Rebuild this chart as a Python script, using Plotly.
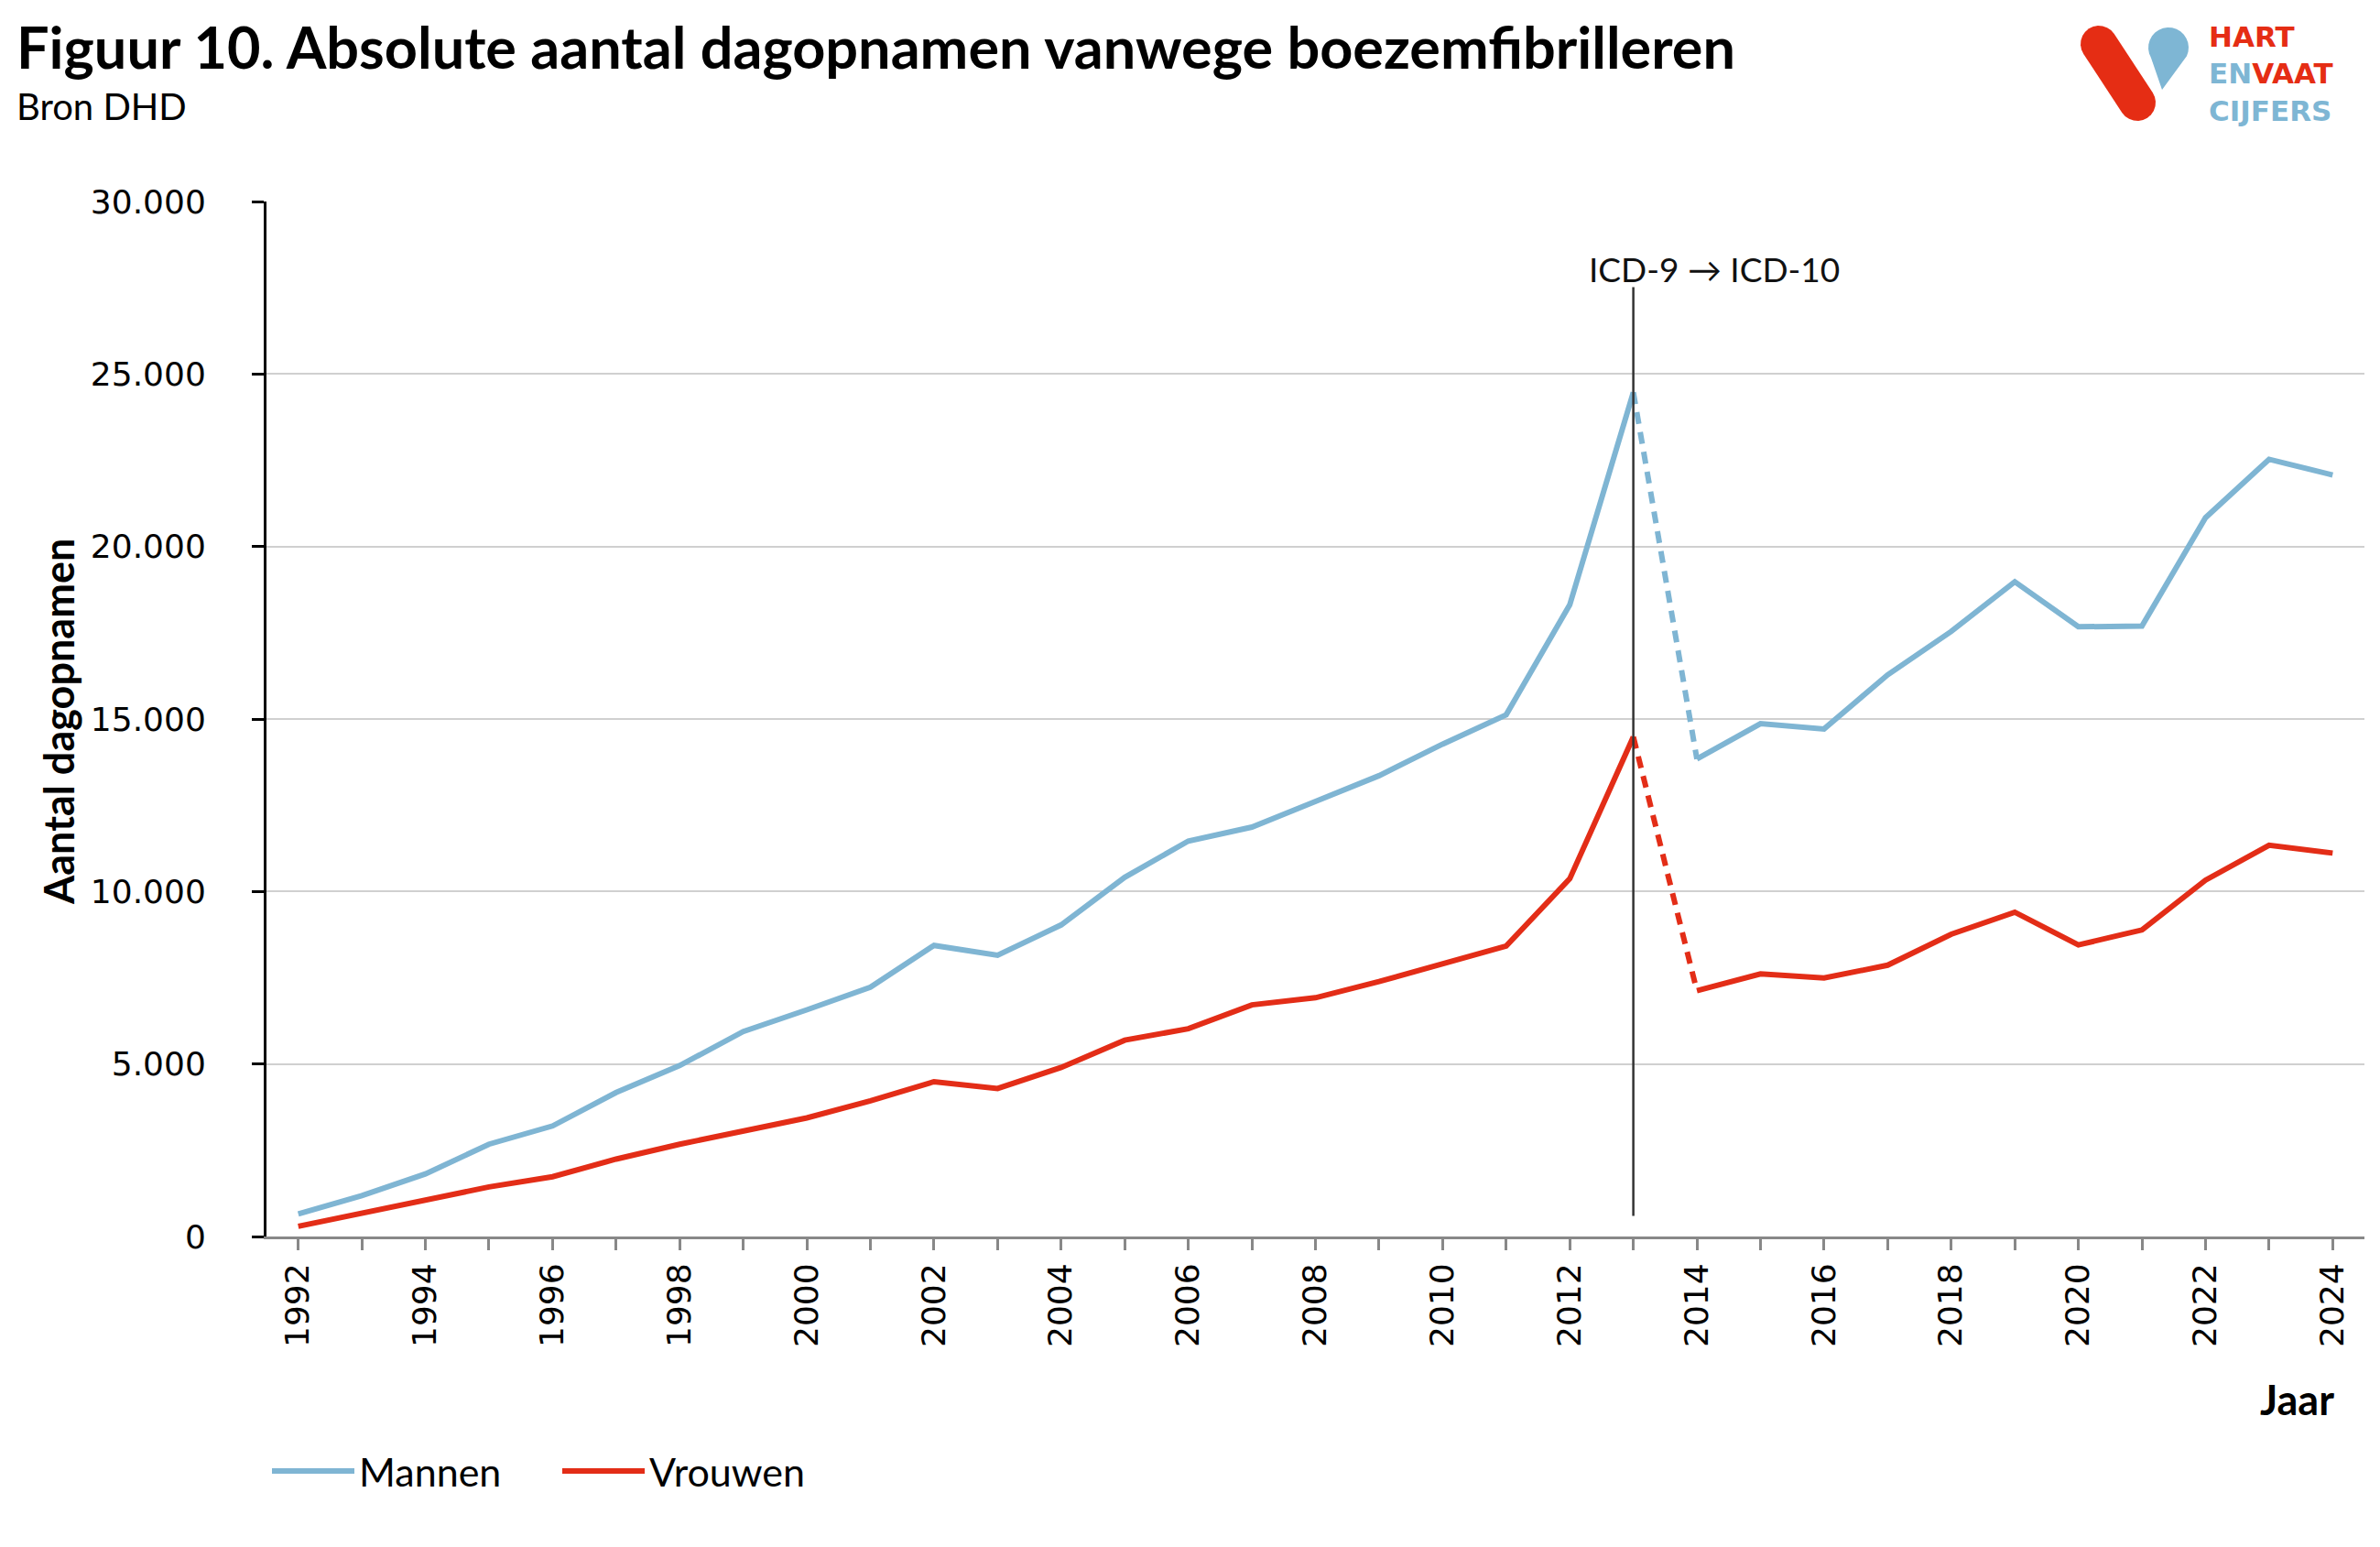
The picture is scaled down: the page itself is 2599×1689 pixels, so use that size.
import math
import plotly.graph_objects as go

years = list(range(1992, 2025))
mannen = [655, 1185, 1813, 2675, 3205, 4175, 4955, 5943, 6571, 7226, 8438, 8151,
          9031, 10413, 11463, 11867, 12612, 13357, 14272, 15123, 18309, 24469,
          13840, 14864, 14711, 16280, 17539, 18978, 17673, 17693, 20836, 22528, 22074]
vrouwen = [296, 673, 1050, 1436, 1733, 2244, 2675, 3052, 3438, 3932, 4488, 4291,
           4901, 5691, 6023, 6715, 6921, 7388, 7914, 8420, 10370, 14481,
           7123, 7613, 7492, 7864, 8762, 9401, 8452, 8885, 10330, 11341, 11114]
series_names = ["Mannen", "Vrouwen"]
colors = ["#7FB5D3", "#E32D17"]
break_year = 2013  # ICD-9 -> ICD-10 transition
ytick_vals = [0, 5000, 10000, 15000, 20000, 25000, 30000]
ytick_text = ["0", "5.000", "10.000", "15.000", "20.000", "25.000", "30.000"]
xtick_labels = [str(y) if (y - 1992) % 2 == 0 else "" for y in years]

W, H = 2599, 1689
L, R, T, B = 283, 25, 212, 347
PW, PH = W - L - R, H - T - B


def px(X):
    return (X - L) / PW


def py(Y):
    return (H - B - Y) / PH


fig = go.Figure()
bi = years.index(break_year)
for name, vals, col in zip(series_names, [mannen, vrouwen], colors):
    fig.add_trace(go.Scatter(x=years[:bi + 1], y=vals[:bi + 1], mode="lines", name=name,
                             legendgroup=name, line=dict(color=col, width=6)))
    fig.add_trace(go.Scatter(x=years[bi:bi + 2], y=vals[bi:bi + 2], mode="lines", name=name,
                             legendgroup=name, showlegend=False,
                             line=dict(color=col, width=6, dash="13px,9px")))
    fig.add_trace(go.Scatter(x=years[bi + 1:], y=vals[bi + 1:], mode="lines", name=name,
                             legendgroup=name, showlegend=False,
                             line=dict(color=col, width=6)))

# vertical line at coding change
fig.add_shape(type="line", xref="x", yref="y", x0=break_year, x1=break_year,
              y0=600, y1=27520, line=dict(color="#333333", width=2.5), layer="above")

annotations = [
    dict(text="ICD-9 → ICD-10", x=2014.28, y=28050, xref="x", yref="y", showarrow=False,
         font=dict(family="Lato", size=37, color="#111111")),
    dict(text="<b>Figuur 10. Absolute aantal dagopnamen vanwege boezemfibrilleren</b>",
         x=px(8), y=py(42), xref="paper", yref="paper", xanchor="left", yanchor="middle",
         showarrow=False, font=dict(family="Lato", size=63, color="#000000")),
    dict(text="Bron DHD", x=px(8), y=py(108), xref="paper", yref="paper", xanchor="left",
         yanchor="middle", showarrow=False, font=dict(family="Lato", size=40, color="#000000")),
    dict(text="<b>Aantal dagopnamen</b>", x=px(56), y=py(780), xref="paper", yref="paper",
         textangle=-90, showarrow=False, xanchor="center", yanchor="middle",
         font=dict(family="Lato", size=45, color="#000000")),
    dict(text="<b>Jaar</b>", x=px(2500), y=py(1520), xref="paper", yref="paper",
         showarrow=False, xanchor="center", yanchor="middle",
         font=dict(family="Lato", size=45, color="#000000")),
    # logo text
    dict(text="<b><span style='color:#E52D14'>HART</span><br>"
              "<span style='color:#7EB6D4'>EN</span><span style='color:#E52D14'>VAAT</span><br>"
              "CIJFERS</b>",
         x=px(2402), y=py(72), xref="paper", yref="paper", xanchor="left", yanchor="middle",
         align="left", showarrow=False,
         font=dict(family="DejaVu Sans", size=31, color="#7EB6D4")),
]


def pill_path(x0, y0, x1, y1, r, n=12):
    ang = math.atan2(y1 - y0, x1 - x0)
    pts = []
    for i in range(n + 1):
        a = ang + math.pi / 2 + math.pi * i / n
        pts.append((x0 + r * math.cos(a), y0 + r * math.sin(a)))
    for i in range(n + 1):
        a = ang - math.pi / 2 + math.pi * i / n
        pts.append((x1 + r * math.cos(a), y1 + r * math.sin(a)))
    return pts


def drop_path(cx, cy, r, tx, ty, n=18):
    pts = []
    for i in range(n + 1):
        a = math.radians(150) + math.radians(235) * i / n
        pts.append((cx + r * math.cos(a), cy + r * math.sin(a)))
    pts.append((tx, ty))
    return pts


def to_paper_path(pts):
    return "M " + " L ".join(f"{px(x):.5f},{py(y):.5f}" for x, y in pts) + " Z"


fig.add_shape(type="path", xref="paper", yref="paper",
              path=to_paper_path(pill_path(2284, 40, 2326, 104, 20)),
              fillcolor="#E52D14", line=dict(width=0))
fig.add_shape(type="path", xref="paper", yref="paper",
              path=to_paper_path(drop_path(2360, 44, 22, 2353, 90)),
              fillcolor="#7EB6D4", line=dict(width=0))

fig.update_layout(
    width=W, height=H,
    margin=dict(l=L, r=R, t=T, b=B),
    paper_bgcolor="white", plot_bgcolor="white",
    font=dict(family="Lato", color="#000000"),
    annotations=annotations,
    showlegend=True,
    legend=dict(orientation="h", x=px(284), y=py(1598), xanchor="left", yanchor="middle",
                font=dict(family="Lato", size=43, color="#000000"), itemwidth=90,
                entrywidth=212, entrywidthmode="pixels",
                bgcolor="rgba(0,0,0,0)", tracegroupgap=0),
)
fig.update_xaxes(
    range=[1991.5, 2024.5], tickmode="array", tickvals=years, ticktext=xtick_labels,
    tickangle=-90, showgrid=False, zeroline=False, showline=True, linecolor="#888888",
    linewidth=3, ticks="outside", ticklen=12, tickwidth=2.5, tickcolor="#888888",
    tickfont=dict(family="DejaVu Sans", size=36, color="#000000"), ticklabelstandoff=0,
)
fig.update_yaxes(
    range=[0, 30000], tickmode="array", tickvals=ytick_vals, ticktext=ytick_text,
    showgrid=True, gridcolor="#d0d0d0", gridwidth=1.5, zeroline=False, showline=True,
    linecolor="#000000", linewidth=3, ticks="outside", ticklen=13, tickwidth=2.5,
    tickcolor="#000000", tickfont=dict(family="DejaVu Sans", size=36, color="#000000"),
    ticklabelstandoff=43,
)

fig.write_html("out.html")
